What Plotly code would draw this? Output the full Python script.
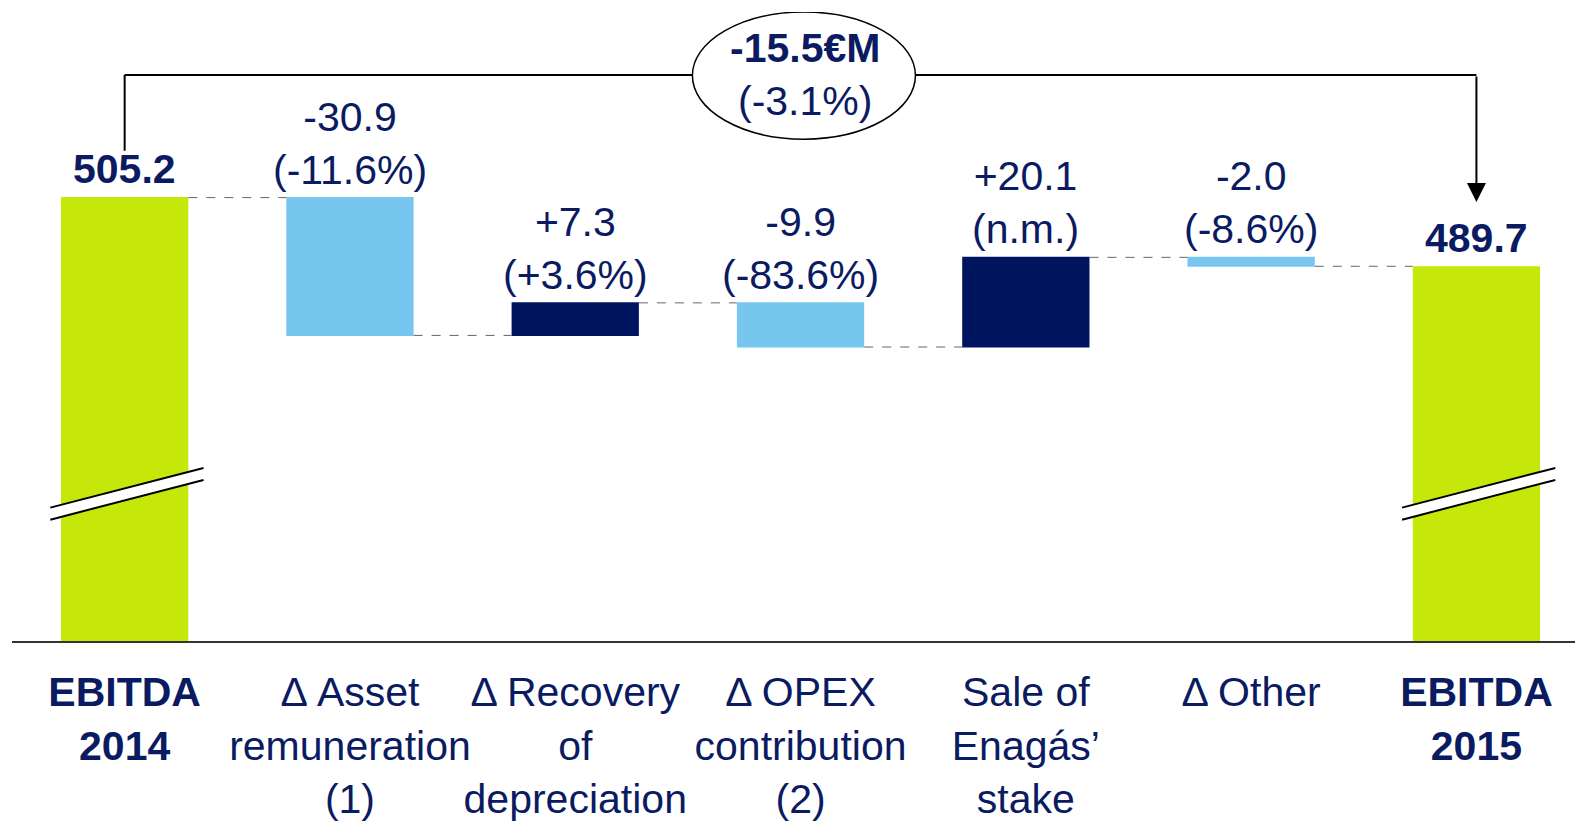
import plotly.graph_objects as go

# datos del puente EBITDA 2014 -> 2015 (M€)
categorias = ["<b>EBITDA<br>2014</b>", "Δ Asset<br>remuneration<br>(1)", "Δ Recovery<br>of<br>depreciation",
              "Δ OPEX<br>contribution<br>(2)", "Sale of<br>Enagás’<br>stake", "Δ Other", "<b>EBITDA<br>2015</b>"]
valores = [505.2, -30.9, 7.3, -9.9, 20.1, -2.0, 489.7]
medidas = ["absolute", "relative", "relative", "relative", "relative", "relative", "absolute"]
etiquetas = ["<b>505.2</b>", "-30.9<br>(-11.6%)", "+7.3<br>(+3.6%)", "-9.9<br>(-83.6%)",
             "+20.1<br>(n.m.)", "-2.0<br>(-8.6%)", "<b>489.7</b>"]
variacion_total = "<b>-15.5€M</b><br>(-3.1%)"

AZUL = "#0B1B61"
FUENTE = "Liberation Sans, Arial, sans-serif"

x = list(range(len(valores)))

# cima de cada barra
cimas = []
acum = 0
for v, m in zip(valores, medidas):
    if m == "absolute":
        acum = v
        cimas.append(v)
    else:
        cimas.append(max(acum, acum + v))
        acum += v

fig = go.Figure(go.Waterfall(
    x=x, y=valores, measure=medidas,
    width=0.565,
    increasing=dict(marker=dict(color="#001560")),
    decreasing=dict(marker=dict(color="#76C6F0")),
    totals=dict(marker=dict(color="#C5E80A")),
    connector=dict(mode="between", line=dict(color="#666666", width=1, dash="dash")),
    hoverinfo="skip",
))

ymin, ymax = 405.8, 546.8

for i, t in enumerate(etiquetas):
    fig.add_annotation(x=i, y=cimas[i], text=t, showarrow=False, yanchor="bottom",
                       yshift=4 if "<b>" in t else 3, font=dict(family=FUENTE, size=41, color=AZUL))

# corte del eje en las barras de EBITDA
for i in (0, 6):
    y1, y2 = 433.0, 441.9
    dy = 2.7
    fig.add_shape(type="path", xref="x", yref="y",
                  path=f"M {i-0.33},{y1} L {i+0.35},{y2} L {i+0.35},{y2+dy} L {i-0.33},{y1+dy} Z",
                  fillcolor="white", line=dict(width=0), layer="above")
    for yy in (y1, y1 + dy):
        fig.add_shape(type="line", xref="x", yref="y", x0=i - 0.33, y0=yy, x1=i + 0.35, y1=yy + (y2 - y1),
                      line=dict(color="black", width=2), layer="above")

# llave superior con la variacion total
y_llave = 532.7
fig.add_shape(type="line", xref="x", yref="y", x0=0, y0=cimas[0] + 10.5, x1=0, y1=y_llave,
              line=dict(color="black", width=2))
fig.add_shape(type="line", xref="x", yref="y", x0=0, y0=y_llave, x1=2.52, y1=y_llave,
              line=dict(color="black", width=2))
fig.add_shape(type="line", xref="x", yref="y", x0=3.51, y0=y_llave, x1=6, y1=y_llave,
              line=dict(color="black", width=2))
fig.add_annotation(x=6, y=cimas[6] + 14.5, ax=6, ay=y_llave, axref="x", ayref="y", xref="x", yref="y",
                   text="", showarrow=True, arrowhead=2, arrowsize=1.9, arrowwidth=2, arrowcolor="black")
fig.add_shape(type="circle", xref="x", yref="y", x0=2.52, x1=3.51, y0=518.3, y1=546.8,
              fillcolor="white", line=dict(color="black", width=1.5))
fig.add_annotation(x=3.02, y=y_llave, text=variacion_total, showarrow=False,
                   font=dict(family=FUENTE, size=41, color=AZUL))

fig.update_layout(
    width=1575, height=814,
    margin=dict(l=4, r=0, t=4, b=173),
    plot_bgcolor="white", paper_bgcolor="white",
    showlegend=False,
    xaxis=dict(range=[-0.5, 6.473], tickvals=x, ticktext=categorias, tickangle=0,
               showgrid=False, zeroline=False, showline=True, linecolor="#333333", linewidth=2,
               tickfont=dict(family=FUENTE, size=41, color=AZUL), ticks="", ticklabelstandoff=14),
    yaxis=dict(range=[ymin, ymax], visible=False, showgrid=False),
)

fig.write_html("out.html")
